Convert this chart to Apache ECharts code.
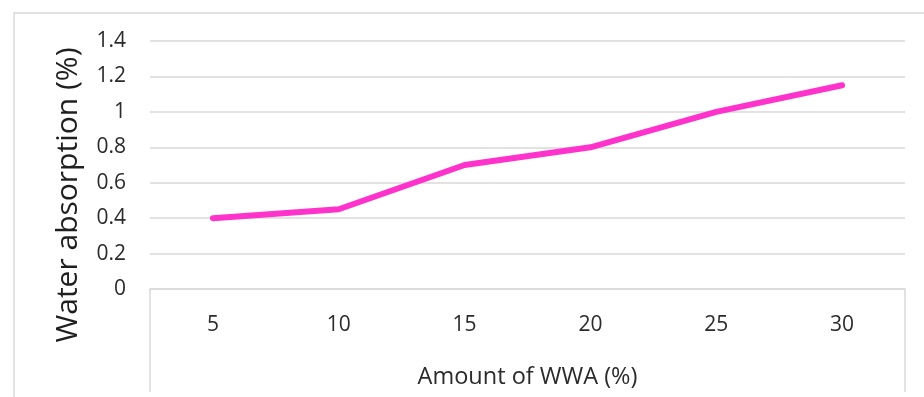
<!DOCTYPE html>
<html>
<head>
<meta charset="utf-8">
<script src="https://cdn.jsdelivr.net/npm/echarts@6/dist/echarts.min.js"></script>
<style>
  html, body { margin: 0; padding: 0; background: #fff; }
  #chart { width: 924px; height: 397px; }
</style>
</head>
<body>
<div id="chart"></div>
<script>
// WWA dosage (%) and the measured water absorption (%)
const categories = ['5', '10', '15', '20', '25', '30'];
const absorption = [0.4, 0.45, 0.7, 0.8, 1.0, 1.15];
const yTicks = { min: 0, max: 1.4, step: 0.2 };

const FONT = '"Open Sans", sans-serif';
const GRID_COLOR = '#d9d9d9';
const TEXT_COLOR = '#2b2b2b';

const chart = echarts.init(document.getElementById('chart'), null, { renderer: 'canvas' });
chart.setOption({
  backgroundColor: '#fff',
  animation: false,
  textStyle: { fontFamily: FONT },
  grid: { left: 150, right: 19, top: 41, bottom: 108, containLabel: false, outerBoundsMode: 'none' },
  xAxis: {
    type: 'category',
    data: categories,
    boundaryGap: true,
    axisLine: { lineStyle: { color: GRID_COLOR, width: 1.5 } },
    axisTick: { show: false },
    axisLabel: { color: TEXT_COLOR, fontSize: 21, fontFamily: FONT, margin: 26 },
    name: 'Amount of WWA (%)',
    nameLocation: 'middle',
    nameGap: 76,
    nameTextStyle: { color: TEXT_COLOR, fontSize: 23.5, fontFamily: FONT }
  },
  yAxis: {
    type: 'value',
    min: yTicks.min,
    max: yTicks.max,
    interval: yTicks.step,
    axisLine: { show: false },
    axisTick: { show: false },
    splitLine: { lineStyle: { color: GRID_COLOR, width: 1.5 } },
    axisLabel: { color: TEXT_COLOR, fontSize: 21, fontFamily: FONT, margin: 24 }
  },
  series: [{
    type: 'line',
    data: absorption,
    symbol: 'none',
    lineStyle: { color: '#ff33cc', width: 6, cap: 'round', join: 'round' }
  }],
  graphic: [
    // outer chart frame (left and top edges visible)
    { type: 'polyline', silent: true,
      shape: { points: [[14, 400], [14, 13], [930, 13]] },
      style: { stroke: GRID_COLOR, lineWidth: 1.5, fill: null } },
    // category table edges under the x axis
    { type: 'line', silent: true,
      shape: { x1: 150, y1: 289, x2: 150, y2: 392 },
      style: { stroke: GRID_COLOR, lineWidth: 1.5 } },
    { type: 'line', silent: true,
      shape: { x1: 905, y1: 289, x2: 905, y2: 392 },
      style: { stroke: GRID_COLOR, lineWidth: 1.5 } },
    // y-axis title, centred on the chart height
    { type: 'text', silent: true,
      x: 68, y: 195, rotation: Math.PI / 2,
      style: { text: 'Water absorption (%)', fill: '#1f1f1f', font: '30px "Open Sans", sans-serif',
               textAlign: 'center', textVerticalAlign: 'middle' } }
  ]
});
</script>
</body>
</html>
